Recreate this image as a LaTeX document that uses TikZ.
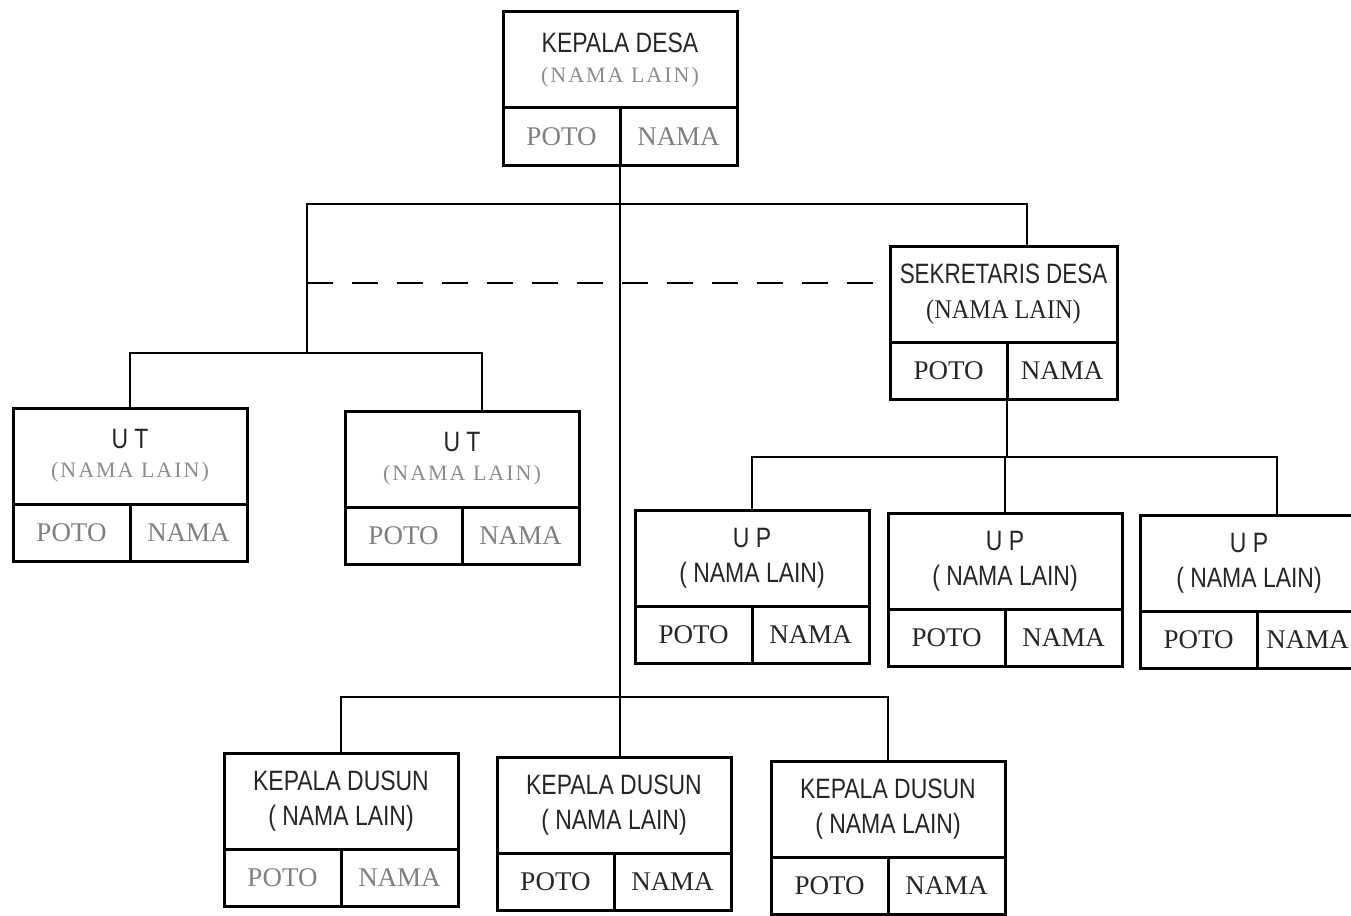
\documentclass[tikz,border=0pt]{standalone}
\usepackage{fontspec}
\setmainfont{Liberation Serif}
\newfontfamily\judul[FakeStretch=0.82]{Liberation Sans}
\usetikzlibrary{positioning}

\begin{document}
\begin{tikzpicture}[x=1pt,y=-1pt,
  every node/.style={inner sep=0pt,outer sep=0pt,anchor=north west,align=center,text=black!85},
  kotak/.style={draw,line width=3pt},
  atas/.style={kotak,minimum width=234,minimum height=96,font=\judul\fontsize{28}{35}\selectfont},
  bawah/.style={kotak,minimum width=117,minimum height=57,font=\fontsize{27}{30}\selectfont},
  pudar/.style={text=black!50},
  garis/.style={line width=2.8pt},
  putus/.style={garis,dash pattern=on 26pt off 19pt}]
\useasboundingbox (0,0) rectangle (1351,915);
\clip (0,0) rectangle (1351,915);

% kepala desa
\node[atas] (kades) at (503,12) {KEPALA DESA\\[-5pt]{\rmfamily\fontsize{22}{22}\selectfont\addfontfeatures{LetterSpace=9}\color{black!45}(NAMA LAIN)}};
\node[bawah,pudar] (kades-poto) at (kades.south west) {POTO};
\node[bawah,pudar] (kades-nama) at (kades-poto.north east) {NAMA};

% sekretaris desa
\node[atas,minimum width=227] (sekdes) at (890,246) {\addfontfeatures{FakeStretch=0.8}SEKRETARIS DESA\\{\rmfamily\fontsize{27}{27}\selectfont\addfontfeatures{FakeStretch=0.9}(NAMA LAIN)}};
\node[bawah] (sekdes-poto) at (sekdes.south west) {POTO};
\node[bawah,minimum width=110] (sekdes-nama) at (sekdes-poto.north east) {NAMA};

% urusan tata
\node[atas] (ut1) at (13,408) {U T\\[-6pt]{\rmfamily\fontsize{22}{22}\selectfont\addfontfeatures{LetterSpace=9}\color{black!45}(NAMA LAIN)}};
\node[bawah,pudar] (ut1-poto) at (ut1.south west) {POTO};
\node[bawah,pudar] (ut1-nama) at (ut1-poto.north east) {NAMA};

\node[atas] (ut2) at (345,411) {U T\\[-6pt]{\rmfamily\fontsize{22}{22}\selectfont\addfontfeatures{LetterSpace=9}\color{black!45}(NAMA LAIN)}};
\node[bawah,pudar] (ut2-poto) at (ut2.south west) {POTO};
\node[bawah,pudar] (ut2-nama) at (ut2-poto.north east) {NAMA};

% urusan pelaksana
\node[atas] (up1) at (635,510) {U P\\( NAMA LAIN)};
\node[bawah] (up1-poto) at (up1.south west) {POTO};
\node[bawah] (up1-nama) at (up1-poto.north east) {NAMA};

\node[atas] (up2) at (888,513) {U P\\( NAMA LAIN)};
\node[bawah] (up2-poto) at (up2.south west) {POTO};
\node[bawah] (up2-nama) at (up2-poto.north east) {NAMA};

\node[atas,minimum width=218] (up3) at (1140,515) {U P\\( NAMA LAIN)};
\node[bawah] (up3-poto) at (up3.south west) {POTO};
\node[bawah,minimum width=101] (up3-nama) at (up3-poto.north east) {NAMA};

% kepala dusun
\node[atas] (kd1) at (224,753) {KEPALA DUSUN\\( NAMA LAIN)};
\node[bawah,pudar] (kd1-poto) at (kd1.south west) {POTO};
\node[bawah,pudar] (kd1-nama) at (kd1-poto.north east) {NAMA};

\node[atas] (kd2) at (497,757) {KEPALA DUSUN\\( NAMA LAIN)};
\node[bawah] (kd2-poto) at (kd2.south west) {POTO};
\node[bawah] (kd2-nama) at (kd2-poto.north east) {NAMA};

\node[atas] (kd3) at (771,761) {KEPALA DUSUN\\( NAMA LAIN)};
\node[bawah] (kd3-poto) at (kd3.south west) {POTO};
\node[bawah] (kd3-nama) at (kd3-poto.north east) {NAMA};

% garis
\coordinate (bus-kiri) at (307,204);
\coordinate (bus-kanan) at (1027,204);
\coordinate (bus-ut) at (307,353);
\coordinate (ut-kanan) at (482,353);
\coordinate (bus-up) at (1007,457);
\coordinate (up-kanan) at (1277,457);
\coordinate (bus-kd) at (620,697);
\coordinate (titik-putus) at (307,283);

\draw[garis] (kades-poto.south east) -- (kades-poto.south east |- kd2.north);
\draw[garis] (bus-ut) -- (bus-kiri) -- (bus-kanan) -- (bus-kanan |- sekdes.north);
\draw[putus] (titik-putus) -- (titik-putus -| sekdes.west);
\draw[garis] (ut1.north) -- (ut1.north |- bus-ut) -- (ut-kanan) -- (ut-kanan |- ut2.north);
\draw[garis] (sekdes-poto.south east) -- (bus-up);
\draw[garis] (up1.north) -- (up1.north |- bus-up) -- (up-kanan) -- (up-kanan |- up3.north);
\draw[garis] (up2.north) -- (up2.north |- bus-up);
\draw[garis] (kd1.north) -- (kd1.north |- bus-kd) -- (kd3.north |- bus-kd) -- (kd3.north);
\end{tikzpicture}
\end{document}
